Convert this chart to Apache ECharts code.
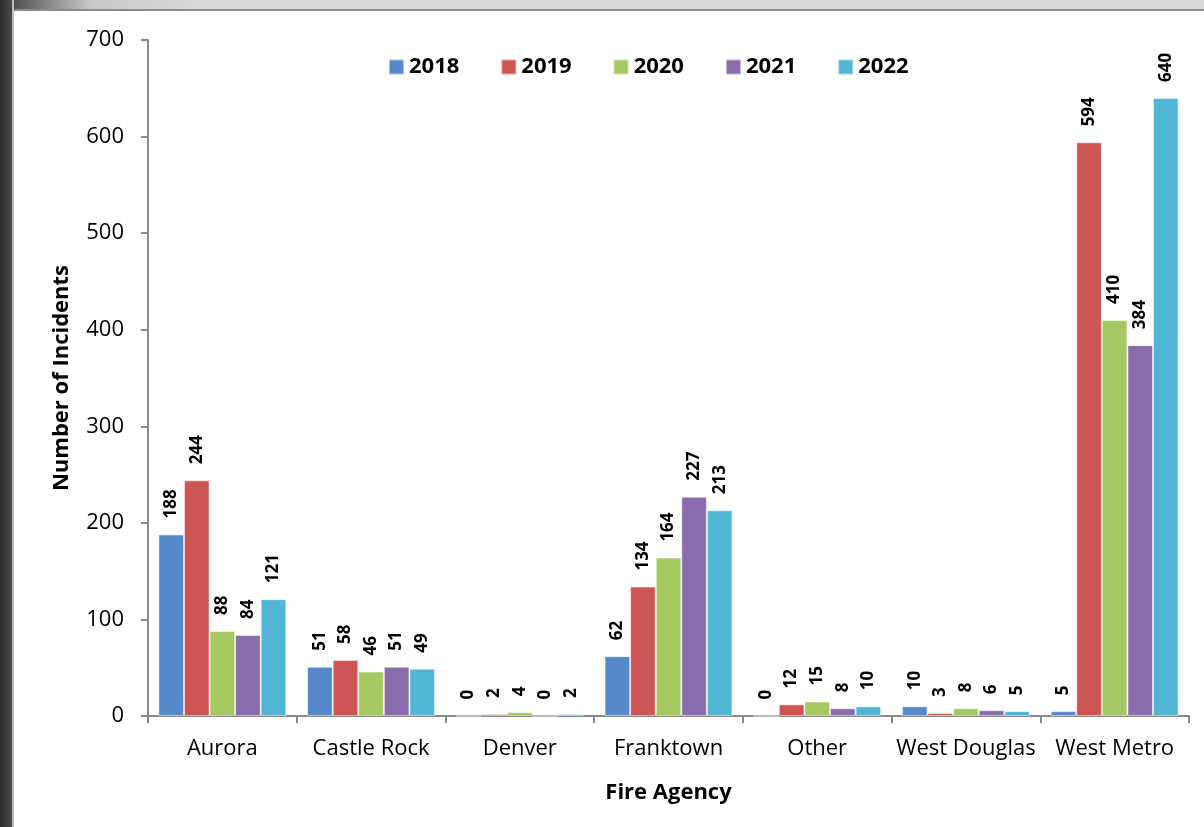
<!DOCTYPE html>
<html>
<head>
<meta charset="utf-8">
<script src="https://cdn.jsdelivr.net/npm/echarts@6/dist/echarts.min.js"></script>
<style>
  html, body { margin: 0; padding: 0; background: #fff; }
  #chart { position: absolute; left: 0; top: 0; width: 1204px; height: 827px; }
  #topbar { position: absolute; left: 0; top: 0; width: 1204px; height: 9px;
    background: linear-gradient(to right, #3a3a3a, #c8c8c8 90px, #d9d9d9 200px, #d9d9d9);
    border-bottom: 2px solid #8c8c8c; z-index: 2; }
  #leftbar { position: absolute; left: 0; top: 0; width: 12px; height: 827px;
    background: linear-gradient(to right, #2f2f2f, #4a4a4a);
    border-right: 2px solid #bdbdbd; z-index: 3; }
</style>
</head>
<body>
<div id="chart"></div>
<div id="topbar"></div>
<div id="leftbar"></div>
<script>
    //类目和数据
    var agencies = ['Aurora', 'Castle Rock', 'Denver', 'Franktown', 'Other', 'West Douglas', 'West Metro'];
    var years = ['2018', '2019', '2020', '2021', '2022'];
    var v2018 = [188, 51, 0, 62, 0, 10, 5];
    var v2019 = [244, 58, 2, 134, 12, 3, 594];
    var v2020 = [88, 46, 4, 164, 15, 8, 410];
    var v2021 = [84, 51, 0, 227, 8, 6, 384];
    var v2022 = [121, 49, 2, 213, 10, 5, 640];
    var colors = ['#5589C9', '#CD5553', '#A6C863', '#8A6CAC', '#51B6D4'];

    var font = '"Open Sans", sans-serif';

    //生成单个系列
    function makeSeries(name, data, color){
    	return {
    		name: name,
    		type: 'bar',
    		data: data,
    		barGap: '0%',
    		barCategoryGap: '14%',
    		itemStyle: { color: color, borderColor: 'rgba(255,255,255,0.5)', borderWidth: 1 },
    		label: {
    			show: true,
    			position: 'top',
    			rotate: 90,
    			align: 'left',
    			verticalAlign: 'middle',
    			distance: 16,
    			color: '#000',
    			fontWeight: 'bold',
    			fontSize: 17,
    			fontFamily: font
    		}
    	};
    }

    var allData = [v2018, v2019, v2020, v2021, v2022];
    var series = [];
    years.forEach(function(y, i){
    	series.push(makeSeries(y, allData[i], colors[i]));
    });

    var chart = echarts.init(document.getElementById('chart'));
    chart.setOption({
    	animation: false,
    	color: colors,
    	grid: { left: 148, right: 15, top: 40, bottom: 111 },
    	legend: {
    		data: years,
    		left: 383,
    		top: 51,
    		itemWidth: 15,
    		itemHeight: 15,
    		itemGap: 41,
    		icon: 'rect',
    		textStyle: { fontSize: 22, fontWeight: 'bold', color: '#000', fontFamily: font }
    	},
    	xAxis: {
    		type: 'category',
    		data: agencies,
    		name: 'Fire Agency',
    		nameLocation: 'middle',
    		nameGap: 66,
    		nameTextStyle: { fontSize: 22, fontWeight: 'bold', color: '#000', fontFamily: font },
    		axisLine: { lineStyle: { color: '#898989', width: 2 } },
    		axisTick: { show: true, length: 7, lineStyle: { color: '#898989', width: 2 } },
    		axisLabel: { interval: 0, fontSize: 22, color: '#000', margin: 22, fontFamily: font }
    	},
    	yAxis: {
    		type: 'value',
    		min: 0,
    		max: 700,
    		interval: 100,
    		name: 'Number of Incidents',
    		nameLocation: 'middle',
    		nameGap: 75,
    		nameTextStyle: { fontSize: 22, fontWeight: 'bold', color: '#000', fontFamily: font },
    		axisLine: { show: true, lineStyle: { color: '#898989', width: 2 } },
    		axisTick: { show: true, length: 7, lineStyle: { color: '#898989', width: 2 } },
    		splitLine: { show: false },
    		axisLabel: { fontSize: 22, color: '#000', margin: 24, fontFamily: font }
    	},
    	series: series
    });
</script>
</body>
</html>
